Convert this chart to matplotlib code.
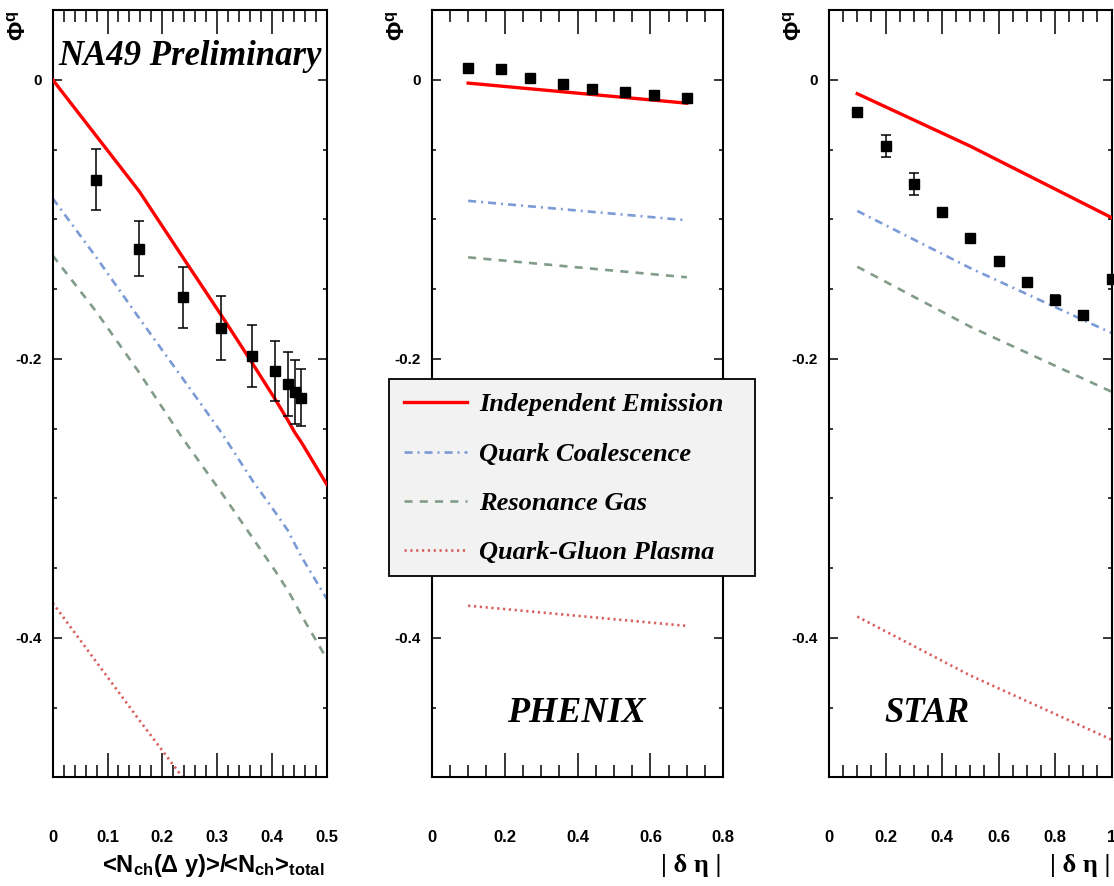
import matplotlib
matplotlib.use("Agg")
import matplotlib.pyplot as plt
from matplotlib.patches import Rectangle
from matplotlib.ticker import MultipleLocator
from matplotlib.font_manager import FontProperties

plt.rcParams["lines.scale_dashes"] = False
plt.rcParams["mathtext.fontset"] = "custom"
plt.rcParams["mathtext.rm"] = "Liberation Sans:bold"
plt.rcParams["mathtext.it"] = "Liberation Sans:bold"
plt.rcParams["mathtext.bf"] = "Liberation Sans:bold"
plt.rcParams["font.family"] = ["Liberation Sans", "DejaVu Sans"]

# NA49 data and models
na49_x = [0.0785, 0.158, 0.237, 0.308, 0.364, 0.406, 0.429, 0.442, 0.454]
na49_phi = [-0.0717, -0.121, -0.156, -0.178, -0.198, -0.209, -0.218, -0.224, -0.228]
na49_err = [0.022, 0.020, 0.022, 0.023, 0.022, 0.0215, 0.023, 0.023, 0.0205]
na49_model_x = [0, 0.079, 0.158, 0.237, 0.308, 0.364, 0.406, 0.429, 0.442, 0.454, 0.5]
na49_indep = [0, -0.040, -0.080, -0.127, -0.169, -0.203, -0.229, -0.244, -0.253, -0.260, -0.290]
na49_quark = [-0.085, -0.127, -0.171, -0.214, -0.253, -0.287, -0.310, -0.323, -0.333, -0.342, -0.372]
na49_reso = [-0.126, -0.166, -0.210, -0.257, -0.296, -0.328, -0.352, -0.366, -0.375, -0.384, -0.415]
na49_qgp_x = [0, 0.079, 0.158, 0.237]
na49_qgp = [-0.375, -0.417, -0.459, -0.500]
na49_ticks = [0, 0.1, 0.2, 0.3, 0.4, 0.5]
na49_ticklabels = ["0", "0.1", "0.2", "0.3", "0.4", "0.5"]

# PHENIX
phenix_x = [0.1, 0.19, 0.27, 0.36, 0.44, 0.53, 0.61, 0.70]
phenix_phi = [0.0086, 0.008, 0.001, -0.003, -0.0065, -0.0089, -0.0108, -0.0132]
phenix_model_x = [0.1, 0.7]
phenix_indep = [-0.0024, -0.0168]
phenix_quark = [-0.0868, -0.1007]
phenix_reso = [-0.1273, -0.1416]
phenix_qgp = [-0.377, -0.3915]
phenix_ticks = [0, 0.2, 0.4, 0.6, 0.8]
phenix_ticklabels = ["0", "0.2", "0.4", "0.6", "0.8"]

# STAR
star_x = [0.1, 0.2, 0.3, 0.4, 0.5, 0.6, 0.7, 0.8, 0.9, 1.0]
star_phi = [-0.023, -0.0476, -0.0744, -0.095, -0.1133, -0.130, -0.145, -0.1576, -0.1684, -0.1428]
star_err = [0.002, 0.0077, 0.0079, 0.003, 0.003, 0.003, 0.003, 0.003, 0.003, 0.003]
star_model_x = [0.1, 0.5, 1.0]
star_indep = [-0.010, -0.0476, -0.0988]
star_quark = [-0.094, -0.135, -0.1815]
star_reso = [-0.134, -0.177, -0.2236]
star_qgp = [-0.3848, -0.427, -0.473]
star_ticks = [0, 0.2, 0.4, 0.6, 0.8, 1.0]
star_ticklabels = ["0", "0.2", "0.4", "0.6", "0.8", "1"]

labels = ["Independent Emission", "Quark Coalescence", "Resonance Gas", "Quark-Gluon Plasma"]

RED = "#ff0000"
BLUE = "#7b9bd7"
GREEN = "#819c88"
PINK = "#d95f5d"

W, H = 1114, 886
fig = plt.figure(figsize=(W / 100, H / 100), dpi=100)

top, bottom = 10, 777.3
panels = [(52.7, 326.7), (431.7, 723.3), (829, 1111.5)]
axes = []
for l, r in panels:
    ax = fig.add_axes([l / W, 1 - bottom / H, (r - l) / W, (bottom - top) / H])
    axes.append(ax)


def style_axis(ax, xmax, xminor, xticks, xticklabels):
    ax.set_xlim(0, xmax)
    ax.set_ylim(-0.5, 0.05)
    ax.set_xticks(xticks)
    ax.set_xticklabels(xticklabels, fontweight="bold")
    ax.xaxis.set_minor_locator(MultipleLocator(xminor))
    ax.set_yticks([0, -0.2, -0.4])
    ax.set_yticklabels(["0", "-0.2", "-0.4"], fontweight="bold")
    ax.yaxis.set_minor_locator(MultipleLocator(0.05))
    ax.tick_params(which="both", direction="in", top=True, right=True, width=1.1)
    ax.tick_params(axis="x", which="major", length=17, pad=38, labelsize=12)
    ax.tick_params(axis="x", which="minor", length=8.6)
    ax.tick_params(axis="y", which="major", length=6.5, pad=8, labelsize=11)
    ax.tick_params(axis="y", which="minor", length=3)
    for s in ax.spines.values():
        s.set_linewidth(1.5)
    ax.annotate("Φ$^{q}$", xy=(0, 1), xycoords="axes fraction",
                xytext=(-33, -16), textcoords="offset pixels",
                rotation=90, ha="center", va="center", fontsize=17,
                fontweight="bold")


def plot_models(ax, x, indep, quark, reso, qgp_x, qgp):
    h1, = ax.plot(x, indep, color=RED, lw=2.4, zorder=3)
    h2, = ax.plot(x, quark, color=BLUE, lw=1.9, ls=(0, (5.8, 3.6, 1.4, 3.6)))
    h3, = ax.plot(x, reso, color=GREEN, lw=1.9, ls=(0, (5.8, 5.2)))
    h4, = ax.plot(qgp_x, qgp, color=PINK, lw=1.9, ls=(0, (1.6, 2.6)))
    return [h1, h2, h3, h4]


ax1, ax2, ax3 = axes
style_axis(ax1, 0.5, 0.02, na49_ticks, na49_ticklabels)
style_axis(ax2, 0.8, 0.05, phenix_ticks, phenix_ticklabels)
style_axis(ax3, 1.0, 0.05, star_ticks, star_ticklabels)

handles = plot_models(ax1, na49_model_x, na49_indep, na49_quark, na49_reso, na49_qgp_x, na49_qgp)
plot_models(ax2, phenix_model_x, phenix_indep, phenix_quark, phenix_reso, phenix_model_x, phenix_qgp)
plot_models(ax3, star_model_x, star_indep, star_quark, star_reso, star_model_x, star_qgp)

ax1.errorbar(na49_x, na49_phi, yerr=na49_err, fmt="s", color="black", ms=7.5,
             elinewidth=1.1, capsize=3.6, capthick=1.1, zorder=4)
ax2.plot(phenix_x, phenix_phi, "s", color="black", ms=7.5, zorder=4)
ax3.errorbar(star_x, star_phi, yerr=star_err, fmt="s", color="black", ms=7.5,
             elinewidth=1.1, capsize=3.6, capthick=1.1, zorder=4, clip_on=False)

title_font = dict(family="Liberation Serif", weight="bold", style="italic")
ax1.text(0.02, 0.928, "NA49 Preliminary", transform=ax1.transAxes, ha="left",
         va="baseline", fontsize=25, **title_font)
ax2.text(0.497, 0.0725, "PHENIX", transform=ax2.transAxes, ha="center",
         va="baseline", fontsize=26, **title_font)
ax3.text(0.345, 0.0725, "STAR", transform=ax3.transAxes, ha="center",
         va="baseline", fontsize=25, **title_font)

ax1.text(0.99, -0.1156, "<N$_{ch}$(Δ y)>/<N$_{ch}$>$_{total}$", transform=ax1.transAxes,
         ha="right", va="center", fontsize=17, fontweight="bold")
for ax in (ax2, ax3):
    ax.text(0.995, -0.1156, "| δ η |", transform=ax.transAxes, ha="right",
            va="center", fontsize=19, family="Liberation Serif", fontweight="bold")

box = Rectangle((389 / W, 1 - 576 / H), (755 - 389) / W, (576 - 379) / H,
                transform=fig.transFigure, facecolor="#f2f2f2", edgecolor="black",
                lw=1.3, zorder=4)
fig.add_artist(box)
leg = fig.legend(handles, labels, loc="upper left", bbox_to_anchor=(404 / W, 1 - 393 / H),
                 frameon=False, borderpad=0, borderaxespad=0, handlelength=2.4,
                 handletextpad=0.45, labelspacing=0.98,
                 prop=FontProperties(family="Liberation Serif", weight="bold",
                                     style="italic", size=19))
leg.set_zorder(5)

fig.savefig("out.png", dpi=100)
